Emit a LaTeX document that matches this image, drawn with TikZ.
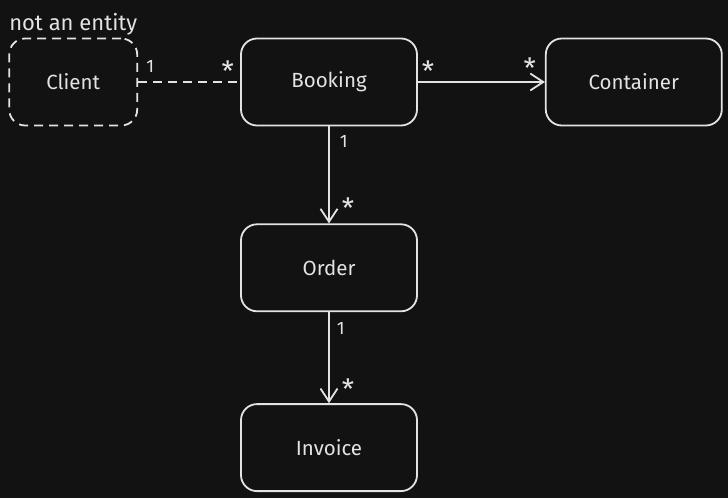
\documentclass[tikz,border=0pt]{standalone}
\usepackage{fontspec}
\setmainfont{Fira Sans}
\usetikzlibrary{positioning,arrows.meta}
\definecolor{bgdark}{HTML}{121212}
\definecolor{inkgray}{HTML}{E3E3E3}

\begin{document}
\begin{tikzpicture}[x=1pt,y=-1pt,>={Straight Barb[length=13pt,width=17pt]},
		every node/.style={text=inkgray},
		entity/.style={draw=inkgray,line width=1.8pt,rounded corners=16pt,minimum width=176pt,minimum height=87pt,font=\fontsize{20.5}{22}\selectfont},
		nonentity/.style={entity,dash pattern=on 9pt off 6pt,minimum width=128pt},
		link/.style={draw=inkgray,line width=1.8pt},
		one/.style={font=\fontsize{18}{20}\selectfont,inner sep=1pt},
		many/.style={font=\fontsize{28}{30}\selectfont,inner sep=0pt}]
		\fill[bgdark] (0,0) rectangle (728,498);
		% entities
		\node[entity] (booking) at (329,82) {Booking};
		\node[nonentity] (client) [left=102pt of booking] {Client};
		\node[entity] (container) [right=127pt of booking] {Container};
		\node[entity] (order) [below=97pt of booking] {Order};
		\node[entity] (invoice) [below=91pt of order] {Invoice};
		\node[font=\fontsize{22}{24}\selectfont,inner sep=1pt] (note) [above=1pt of client] {not an entity};
		% relations
		\path
		(client) edge [link,dash pattern=on 9pt off 6pt] node [one,pos=0.12,above=8pt] {1} node [many,pos=0.88,above=0pt] {*} (booking)
		(booking) edge [link,->] node [many,pos=0.08,above=0pt] {*} node [many,pos=0.88,above=3pt] {*} (container)
		(booking) edge [link,->] node [one,pos=0.16,right=9pt] {1} node [many,pos=0.84,right=12pt] {*} (order)
		(order) edge [link,->] node [one,pos=0.18,right=6pt] {1} node [many,pos=0.85,right=12pt] {*} (invoice);
\end{tikzpicture}
\end{document}
